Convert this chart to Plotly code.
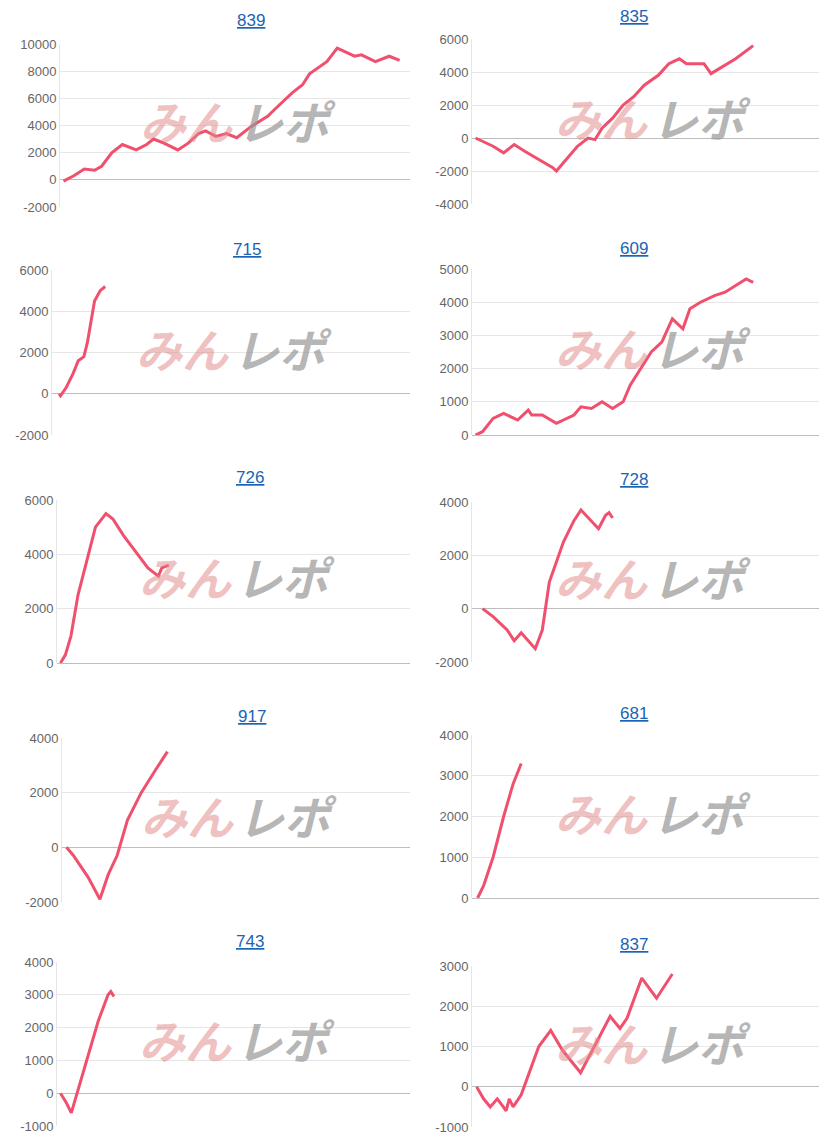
import plotly.graph_objects as go

W, H = 827, 1145
OFF = 8  # page body margin
LINE_COLOR = "#f0506e"

titles = ["839", "835", "715", "609", "726", "728", "917", "681", "743", "837"]

x_839 = [0, 3, 6, 9, 11, 14, 17, 21, 24, 26, 29, 33, 36, 39, 41, 44, 47, 50, 54, 59, 61, 66, 69, 71, 76, 79, 84, 86, 90, 94, 97]
y_839 = [-100, 300, 800, 700, 1000, 2000, 2600, 2200, 2600, 3000, 2700, 2200, 2700, 3400, 3600, 3200, 3400, 3100, 3900, 4700, 5200, 6400, 7000, 7800, 8700, 9700, 9100, 9200, 8700, 9100, 8800]
x_835 = [0, 5, 8, 11, 14, 18, 22, 23, 25, 29, 32, 34, 36, 39, 42, 45, 48, 52, 55, 58, 60, 65, 67, 70, 74, 79]
y_835 = [0, -500, -900, -400, -800, -1300, -1800, -2000, -1500, -500, 0, -100, 600, 1200, 2000, 2500, 3200, 3800, 4500, 4800, 4500, 4500, 3900, 4300, 4800, 5600]
x_715 = [1, 1.4, 3, 5, 6.4, 8, 9, 10, 11, 12.6, 14]
y_715 = [0, -100, 300, 1000, 1600, 1800, 2500, 3500, 4500, 5000, 5200]
x_609 = [0, 2, 5, 8, 11, 12, 15, 16, 19, 23, 28, 30, 33, 36, 39, 42, 44, 47, 50, 53, 56, 59, 61, 64, 68, 71, 74, 77, 79]
y_609 = [0, 100, 500, 650, 500, 450, 750, 600, 600, 350, 600, 850, 800, 1000, 800, 1000, 1500, 2000, 2500, 2800, 3500, 3200, 3800, 4000, 4200, 4300, 4500, 4700, 4600]
x_726 = [0, 1.4, 3, 5, 8, 10, 13, 15, 18, 22, 25, 28, 29, 31]
y_726 = [0, 300, 1000, 2500, 4000, 5000, 5500, 5300, 4700, 4000, 3500, 3200, 3500, 3600]
x_728 = [2, 5, 9, 11, 13, 17, 19, 21, 25, 28, 30, 33, 35, 37, 38, 39]
y_728 = [0, -300, -800, -1200, -900, -1500, -800, 1000, 2500, 3300, 3700, 3300, 3000, 3500, 3600, 3400]
x_917 = [0.3, 2.3, 6.6, 10, 12.4, 15, 18, 22, 26, 29.6]
y_917 = [0, -300, -1100, -1900, -1000, -300, 1000, 2000, 2800, 3500]
x_681 = [0.6, 2.3, 5, 8, 10.7, 13]
y_681 = [0, 300, 1000, 2000, 2800, 3300]
x_743 = [0, 1.7, 3.1, 4.2, 6.5, 8.8, 10.8, 13.6, 14.4, 15.3]
y_743 = [0, -300, -600, -200, 600, 1500, 2200, 3000, 3100, 2950]
x_837 = [0.3, 2.3, 4.2, 6.2, 7.9, 8.7, 9.6, 10.7, 13, 15, 18, 21.4, 24.8, 29.9, 33.2, 38.3, 41.1, 43.1, 47.3, 51.5, 56]
y_837 = [0, -300, -500, -300, -500, -600, -300, -500, -200, 300, 1000, 1400, 900, 350, 900, 1750, 1450, 1700, 2700, 2200, 2800]

series = [(x_839, y_839), (x_835, y_835), (x_715, y_715), (x_609, y_609), (x_726, y_726),
          (x_728, y_728), (x_917, y_917), (x_681, y_681), (x_743, y_743), (x_837, y_837)]
y_ranges = [(-2000, 10000, 2000), (-4000, 6000, 2000), (-2000, 6000, 2000), (0, 5000, 1000), (0, 6000, 2000),
            (-2000, 4000, 2000), (-2000, 4000, 2000), (0, 4000, 1000), (-1000, 4000, 1000), (-1000, 3000, 1000)]

# pixel boxes in the screenshot: left, right, top, bottom, title y
boxes = [(60, 410, 44, 207, 20), (472, 827, 39, 204, 17),
         (52, 410, 270, 435, 250), (472, 827, 269, 435, 248),
         (57, 410, 500, 663, 477), (472, 827, 502, 662, 479),
         (62, 410, 738, 902, 716), (472, 827, 735, 898, 713),
         (57, 410, 962, 1126, 941), (472, 827, 966, 1127, 944)]


def px_x(v):
    return min(1, (v - OFF) / W)


def px_y(v):
    return max(0, 1 - (v - OFF) / H)


fig = go.Figure()
annotations = []
for i, ((xs, ys), (lo, hi, dt), (l, r, t, b, ty)) in enumerate(zip(series, y_ranges, boxes)):
    n = i + 1
    xa = "x" if n == 1 else f"x{n}"
    ya = "y" if n == 1 else f"y{n}"
    fig.add_trace(go.Scatter(x=xs, y=ys, mode="lines", xaxis=xa, yaxis=ya,
                             line=dict(color=LINE_COLOR, width=3), showlegend=False))
    ticks = list(range(lo, hi + 1, dt))
    fig.layout[f"xaxis{'' if n == 1 else n}"] = dict(
        domain=[px_x(l), px_x(r)], anchor=ya, range=[-1, 100], showgrid=False,
        showticklabels=False, zeroline=False, showline=False, fixedrange=True, automargin=False)
    fig.layout[f"yaxis{'' if n == 1 else n}"] = dict(
        domain=[px_y(b), px_y(t)], anchor=xa, range=[lo, hi],
        tickvals=ticks, ticktext=[str(v) for v in ticks],
        gridcolor="#e6e6e6", zeroline=True, zerolinecolor="#bdbdbd", zerolinewidth=1,
        showline=True, linecolor="#e6e6e6", tickfont=dict(size=13, color="#666"),
        ticks="", fixedrange=True, automargin=False)
    cx = px_x((l + r) / 2)
    cy = px_y((t + b) / 2 - 5)
    annotations.append(dict(text=f"<u>{titles[i]}</u>", x=cx, y=px_y(ty), xref="paper", yref="paper",
                            yanchor="middle", showarrow=False,
                            font=dict(size=17, color="#1a64b4", family="Arial")))
    annotations.append(dict(text="<b><i>みん</i></b>", x=cx, y=cy, xref="paper", yref="paper",
                            xanchor="right", yanchor="middle", showarrow=False,
                            font=dict(size=46, color="rgba(225,140,140,0.55)", family="Noto Sans CJK JP")))
    annotations.append(dict(text="<b><i>レポ</i></b>", x=cx, y=cy, xref="paper", yref="paper",
                            xanchor="left", yanchor="middle", showarrow=False,
                            font=dict(size=46, color="rgba(150,150,150,0.7)", family="Noto Sans CJK JP")))

fig.update_layout(width=W, height=H, margin=dict(l=0, r=0, t=0, b=0, autoexpand=False),
                  paper_bgcolor="white", plot_bgcolor="white",
                  font=dict(family="Arial"), annotations=annotations)
fig.write_html("out.html")
